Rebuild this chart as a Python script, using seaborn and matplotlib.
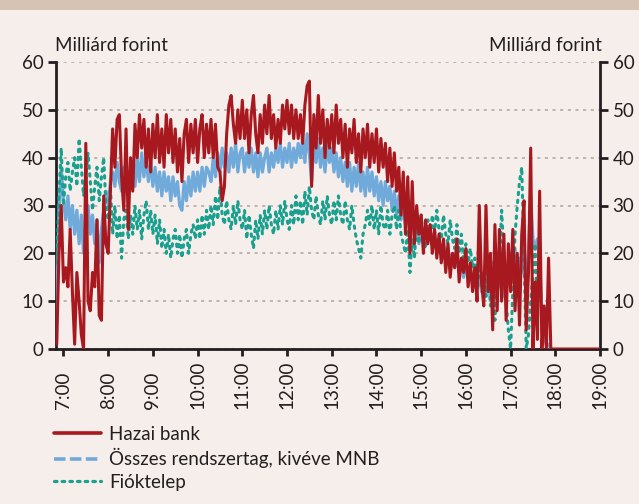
import numpy as np
import pandas as pd
import matplotlib
matplotlib.use("Agg")
import matplotlib.pyplot as plt
import matplotlib.transforms as mtransforms
from matplotlib.lines import Line2D
from matplotlib.patches import Rectangle
import seaborn as sns

# ---------------- data (3-minute steps starting 6:51) ----------------
start_hour = 6 + 51 / 60
step_minutes = 3

hazai_bank = [
    1, 20, 30,
    14, 17, 13, 25, 12, 1, 16, 10, 3, 0, 43, 10, 8, 16, 13, 27, 7, 6, 32, 22,
    20, 33, 46, 38, 48, 49, 36, 29, 46, 25, 40, 33, 47, 40, 49, 42, 48, 38, 46, 37,
    47, 40, 49, 39, 46, 38, 49, 41, 48, 39, 46, 37, 44, 35, 45, 48, 39, 47, 41, 48,
    39, 46, 49, 40, 47, 41, 48, 40, 47, 38, 37, 31, 34, 45, 51, 53, 47, 43, 50, 44,
    52, 44, 50, 41, 49, 53, 45, 41, 49, 43, 51, 45, 53, 44, 49, 42, 48, 43, 51, 46,
    52, 45, 51, 44, 50, 44, 49, 43, 51, 55, 56, 34, 49, 42, 53, 43, 50, 40, 48, 42,
    49, 41, 51, 43, 48, 40, 47, 38, 46, 41, 48, 39, 45, 37, 46, 40, 47, 38, 45, 39,
    46, 37, 44, 38, 43, 35, 42, 34, 41, 33, 38, 28, 37, 24, 36, 20, 35, 22, 30, 24,
    28, 20, 27, 22, 26, 20, 25, 19, 24, 18, 23, 16, 22, 15, 20, 17, 23, 14, 19, 16,
    21, 13, 18, 12, 17, 10, 30, 14, 9, 30, 12, 20, 4, 26, 8, 25, 10, 24, 6, 22,
    12, 25, 8, 20, 5, 24, 31, 4, 16, 42, 0, 14, 2, 33, 0, 9, 0, 19, 0, 0,
    0, 0, 0, 0, 0, 0, 0, 0, 0, 0, 0, 0, 0, 0, 0, 0, 0, 0, 0, 0, 0,
]

osszes_rendszertag = [
    8, 29, 38,
    31, 27, 32, 25, 30, 24, 29, 22, 28, 20, 26, 30, 24, 28, 22, 27, 18, 25, 29, 33,
    30, 35, 37, 34, 39, 35, 33, 38, 34, 32, 37, 39, 34, 40, 35, 41, 36, 40, 35, 39,
    34, 38, 33, 37, 32, 37, 33, 36, 31, 36, 32, 35, 30, 29, 35, 31, 36, 32, 37, 33,
    37, 33, 38, 34, 38, 37, 35, 40, 36, 41, 37, 42, 38, 41, 37, 42, 38, 43, 37, 41,
    42, 37, 41, 38, 42, 37, 41, 36, 41, 37, 40, 42, 37, 41, 38, 42, 39, 43, 38, 42,
    39, 43, 38, 42, 39, 43, 40, 44, 39, 45, 41, 35, 43, 39, 44, 38, 42, 37, 43, 39,
    42, 37, 41, 36, 40, 35, 39, 34, 39, 33, 38, 34, 39, 33, 37, 32, 38, 33, 37, 32,
    36, 31, 35, 30, 35, 31, 34, 29, 33, 28, 32, 27, 31, 26, 29, 24, 28, 23, 27, 22,
    25, 22, 24, 23, 25, 22, 24, 21, 23, 20, 22, 19, 21, 18, 20, 17, 19, 16, 18, 15,
    18, 15, 17, 14, 16, 13, 15, 12, 14, 11, 16, 10, 18, 12, 20, 13, 19, 11, 17, 14,
    20, 15, 21, 12, 19, 16, 23, 10, 20, 32, 23, 21, 23, 18, 8, 3, 1, 1, 0,
]

fioktelep = [
    18, 32, 42,
    30, 36, 39, 33, 37, 40, 34, 44, 38, 32, 36, 41, 35, 29, 34, 38, 31, 36, 40, 30,
    27, 34, 24, 30, 23, 28, 19, 27, 29, 23, 28, 24, 30, 25, 29, 23, 28, 31, 25, 29,
    24, 28, 22, 27, 21, 25, 20, 24, 19, 23, 25, 20, 24, 19, 23, 25, 20, 24, 26, 23,
    27, 23, 28, 24, 29, 25, 30, 26, 32, 27, 34, 28, 26, 31, 27, 25, 30, 26, 31, 27,
    25, 29, 23, 28, 24, 21, 27, 23, 28, 24, 29, 25, 30, 26, 24, 29, 25, 30, 26, 31,
    27, 25, 30, 26, 32, 27, 31, 26, 33, 28, 34, 29, 27, 32, 28, 26, 31, 27, 32, 28,
    26, 31, 27, 32, 28, 26, 31, 27, 25, 30, 26, 23, 21, 19, 24, 26, 29, 26, 30, 25,
    29, 24, 30, 26, 25, 29, 24, 28, 30, 25, 29, 24, 22, 20, 25, 16, 23, 19, 27, 22,
    28, 23, 21, 27, 23, 28, 24, 29, 25, 23, 28, 24, 22, 27, 23, 21, 26, 20, 24, 18,
    22, 18, 21, 17, 19, 15, 18, 13, 16, 11, 19, 9, 15, 6, 14, 18, 29, 20, 10, 4,
    0, 12, 24, 30, 35, 38, 20, 0, 3, 10, 16, 22, 5,
]

series_labels = ["Hazai bank", "Összes rendszertag, kivéve MNB", "Fióktelep"]
tick_hours = [7, 8, 9, 10, 11, 12, 13, 14, 15, 16, 17, 18, 19]
tick_labels = ["7:00", "8:00", "9:00", "10:00", "11:00", "12:00", "13:00",
               "14:00", "15:00", "16:00", "17:00", "18:00", "19:00"]
y_ticks = [0, 10, 20, 30, 40, 50, 60]
unit_label = "Milliárd forint"

# ---------------- style ----------------
BG = "#f5eeeb"
BAND = "#d5c3b3"
RED = "#a8191f"
BLUE = "#70aadb"
TEAL = "#1aa08e"
INK = "#231f20"
GRID = "#a9a5a3"

sns.set_style("ticks")
plt.rcParams["font.family"] = ["Lato", "DejaVu Sans"]
plt.rcParams["text.color"] = INK
plt.rcParams["axes.labelcolor"] = INK
plt.rcParams["xtick.color"] = INK
plt.rcParams["ytick.color"] = INK

fig = plt.figure(figsize=(6.39, 5.04), dpi=100, facecolor=BG)
fig.patches.append(Rectangle((0, 1 - 10 / 504), 1, 10 / 504, transform=fig.transFigure,
                             facecolor=BAND, edgecolor="none", zorder=0))
ax = fig.add_axes([56 / 639, 1 - 349 / 504, (600 - 56) / 639, (349 - 62) / 504])
ax.set_facecolor(BG)


def frame(values):
    t = start_hour + np.arange(len(values)) * step_minutes / 60
    return pd.DataFrame({"time": t, "value": np.asarray(values, dtype=float)})


sns.lineplot(data=frame(osszes_rendszertag), x="time", y="value", ax=ax, color=BLUE,
             lw=2.3, estimator=None, sort=False, zorder=3)
sns.lineplot(data=frame(fioktelep), x="time", y="value", ax=ax, color=TEAL,
             lw=2.2, linestyle=(0, (0.8, 1.8)), dash_capstyle="round",
             estimator=None, sort=False, zorder=4)
sns.lineplot(data=frame(hazai_bank), x="time", y="value", ax=ax, color=RED,
             lw=2.2, estimator=None, sort=False, zorder=5)

ax.set_xlim(start_hour - 1 / 60, 19.0)
ax.set_ylim(0, 60)
ax.set_xlabel("")
ax.set_ylabel("")

ax.yaxis.grid(True, color=GRID, linestyle=(0, (2, 3)), lw=1.1)
ax.xaxis.grid(False)
ax.set_axisbelow(True)

for side in ["left", "right", "bottom"]:
    ax.spines[side].set_visible(True)
    ax.spines[side].set_color(INK)
    ax.spines[side].set_linewidth(2)
ax.spines["top"].set_visible(False)

ax.set_yticks(y_ticks)
ax.tick_params(axis="y", left=True, right=True, labelleft=True, labelright=True,
               direction="out", length=6, width=2, labelsize=13.5, pad=3)
ax.set_xticks(tick_hours)
ax.set_xticklabels(tick_labels)
ax.tick_params(axis="x", direction="out", length=5, width=2, labelsize=13.5, pad=3)

offset = mtransforms.ScaledTranslation(0, -0.49, fig.dpi_scale_trans)
for lab in ax.get_xticklabels():
    lab.set_rotation(90)
    lab.set_rotation_mode("anchor")
    lab.set_horizontalalignment("left")
    lab.set_verticalalignment("center")
    lab.set_transform(lab.get_transform() + offset)

ax.annotate(unit_label, xy=(0, 1), xycoords="axes fraction", xytext=(-1, 6),
            textcoords="offset points", ha="left", va="bottom", fontsize=13.5)
ax.annotate(unit_label, xy=(1, 1), xycoords="axes fraction", xytext=(1, 6),
            textcoords="offset points", ha="right", va="bottom", fontsize=13.5)

handles = [
    Line2D([], [], color=RED, lw=2.6),
    Line2D([], [], color=BLUE, lw=2.6, linestyle=(0, (3.2, 1.2))),
    Line2D([], [], color=TEAL, lw=2.3, linestyle=(0, (0.8, 1.6)), dash_capstyle="round"),
]
fig.legend(handles, series_labels, loc="upper left", bbox_to_anchor=(54 / 639, 1 - 426 / 504),
           frameon=False, fontsize=13.5, handlelength=2.5, handletextpad=0.45,
           labelspacing=0.28, borderpad=0, borderaxespad=0)

fig.savefig("out.png", dpi=100, facecolor=BG)
